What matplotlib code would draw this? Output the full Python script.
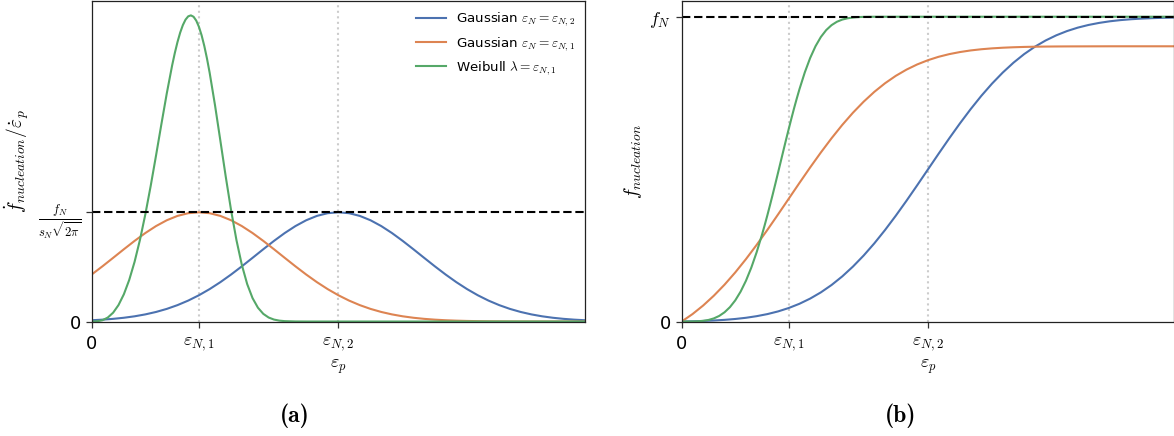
import matplotlib
matplotlib.use("Agg")
import matplotlib.pyplot as plt

plt.rcParams['mathtext.fontset'] = 'cm'
plt.rcParams['font.family'] = ['DejaVu Sans']

# tick positions (plastic strain)
eps_N1 = 0.10
eps_N2 = 0.23
x_max = 0.46

# strain grid for the two gaussians
x_gauss = [0.00, 0.01, 0.02, 0.03, 0.04, 0.05, 0.06, 0.07, 0.08, 0.09,
           0.10, 0.11, 0.12, 0.13, 0.14, 0.15, 0.16, 0.17, 0.18, 0.19,
           0.20, 0.21, 0.22, 0.23, 0.24, 0.25, 0.26, 0.27, 0.28, 0.29,
           0.30, 0.31, 0.32, 0.33, 0.34, 0.35, 0.36, 0.37, 0.38, 0.39,
           0.40, 0.41, 0.42, 0.43, 0.44, 0.45, 0.46]

# strain grid for the weibull curve (denser around the peak)
x_weib = [0.000, 0.005, 0.010, 0.015, 0.020, 0.025, 0.030, 0.035, 0.040, 0.045,
          0.050, 0.055, 0.060, 0.065, 0.070, 0.075, 0.0775, 0.080, 0.0825, 0.085,
          0.0875, 0.090, 0.0925, 0.095, 0.0975, 0.100, 0.1025, 0.105, 0.1075, 0.110,
          0.115, 0.120, 0.125, 0.130, 0.135, 0.140, 0.145, 0.150, 0.155, 0.160,
          0.165, 0.170, 0.175, 0.180, 0.190, 0.200, 0.460]

# (a) nucleation rate, scaled so the gaussian peak is 1
rate_gauss_2 = [0.0116, 0.0169, 0.0243, 0.0343, 0.0476, 0.0651, 0.0874, 0.1154, 0.1500, 0.1915,
                0.2405, 0.2969, 0.3604, 0.4303, 0.5051, 0.5829, 0.6615, 0.7381, 0.8099, 0.8738,
                0.9269, 0.9668, 0.9916, 1.0000, 0.9916, 0.9668, 0.9269, 0.8738, 0.8099, 0.7381,
                0.6615, 0.5829, 0.5051, 0.4303, 0.3604, 0.2969, 0.2405, 0.1915, 0.1500, 0.1154,
                0.0874, 0.0651, 0.0476, 0.0343, 0.0243, 0.0169, 0.0116]
rate_gauss_1 = [0.4303, 0.5051, 0.5829, 0.6615, 0.7381, 0.8099, 0.8738, 0.9269, 0.9668, 0.9916,
                1.0000, 0.9916, 0.9668, 0.9269, 0.8738, 0.8099, 0.7381, 0.6615, 0.5829, 0.5051,
                0.4303, 0.3604, 0.2969, 0.2405, 0.1915, 0.1500, 0.1154, 0.0874, 0.0651, 0.0476,
                0.0343, 0.0243, 0.0169, 0.0116, 0.0078, 0.0051, 0.0033, 0.0020, 0.0013, 0.0008,
                0.0005, 0.0003, 0.0002, 0.0001, 0.0001, 0.0000, 0.0000]
rate_weib = [0.0000, 0.0017, 0.0116, 0.0362, 0.0808, 0.1505, 0.2494, 0.3807, 0.5468, 0.7473,
             0.9801, 1.2405, 1.5200, 1.8072, 2.0875, 2.3440, 2.4577, 2.5585, 2.6446, 2.7135,
             2.7639, 2.7939, 2.8029, 2.7900, 2.7548, 2.6980, 2.6204, 2.5229, 2.4079, 2.2773,
             1.9798, 1.6547, 1.3263, 1.0171, 0.7447, 0.5184, 0.3425, 0.2141, 0.1266, 0.0701,
             0.0365, 0.0177, 0.0080, 0.0034, 0.0005, 0.0000, 0.0000]

# (b) cumulative nucleated fraction, f_N = 1
cum_gauss_2 = [0.0000, 0.0007, 0.0018, 0.0033, 0.0054, 0.0083, 0.0122, 0.0175, 0.0243, 0.0331,
               0.0443, 0.0582, 0.0752, 0.0956, 0.1198, 0.1480, 0.1803, 0.2165, 0.2566, 0.3003,
               0.3470, 0.3961, 0.4469, 0.4986, 0.5503, 0.6011, 0.6502, 0.6969, 0.7406, 0.7807,
               0.8169, 0.8492, 0.8774, 0.9016, 0.9220, 0.9390, 0.9529, 0.9641, 0.9729, 0.9797,
               0.9850, 0.9889, 0.9918, 0.9939, 0.9954, 0.9965, 0.9972]
cum_gauss_1 = [0.0000, 0.0242, 0.0524, 0.0847, 0.1209, 0.1610, 0.2047, 0.2514, 0.3005, 0.3513,
               0.4030, 0.4547, 0.5055, 0.5546, 0.6013, 0.6450, 0.6851, 0.7213, 0.7536, 0.7818,
               0.8060, 0.8264, 0.8434, 0.8573, 0.8685, 0.8773, 0.8841, 0.8894, 0.8933, 0.8962,
               0.8983, 0.8998, 0.9009, 0.9016, 0.9021, 0.9024, 0.9026, 0.9027, 0.9028, 0.9029,
               0.9030, 0.9030, 0.9030, 0.9030, 0.9030, 0.9030, 0.9030]
cum_weib = [0.0000, 0.0000, 0.0002, 0.0007, 0.0022, 0.0051, 0.0102, 0.0183, 0.0303, 0.0470,
            0.0693, 0.0980, 0.1337, 0.1768, 0.2273, 0.2848, 0.3160, 0.3484, 0.3822, 0.4168,
            0.4523, 0.4883, 0.5246, 0.5609, 0.5969, 0.6321, 0.6665, 0.7000, 0.7318, 0.7622,
            0.8175, 0.8646, 0.9032, 0.9335, 0.9562, 0.9724, 0.9835, 0.9906, 0.9949, 0.9974,
            0.9988, 0.9995, 0.9998, 0.9999, 1.0000, 1.0000, 1.0000]

labels = [r'Gaussian $\varepsilon_N = \varepsilon_{N,2}$',
          r'Gaussian $\varepsilon_N = \varepsilon_{N,1}$',
          r'Weibull $\lambda = \varepsilon_{N,1}$']
colors = ['#4C72B0', '#DD8452', '#55A868']

fig = plt.figure(figsize=(11.74, 4.36), dpi=100)
ax1 = fig.add_axes([0.0781, 0.2626, 0.4202, 0.734])
ax2 = fig.add_axes([0.5807, 0.2626, 0.4193, 0.734])

# left panel: rates
ax1.plot(x_gauss, rate_gauss_2, color=colors[0], lw=1.5, label=labels[0])
ax1.plot(x_gauss, rate_gauss_1, color=colors[1], lw=1.5, label=labels[1])
ax1.plot(x_weib, rate_weib, color=colors[2], lw=1.5, label=labels[2])
ax1.axhline(1.0, color='black', ls='--', lw=1.5, dashes=(4, 1.8))
ax1.set_ylim(0, 2.93)
ax1.set_yticks([0, 1])
ax1.set_yticklabels(['0', r'$\frac{f_N}{s_N\sqrt{2\pi}}$'])
ax1.set_ylabel(r'$\dot{f}_{nucleation}/\dot{\varepsilon}_p$', fontsize=14, labelpad=4)
ax1.legend(loc='upper right', frameon=False, fontsize=9.6, handlelength=2.2,
           borderaxespad=0.3, labelspacing=0.5)

# right panel: cumulative
ax2.plot(x_gauss, cum_gauss_2, color=colors[0], lw=1.5)
ax2.plot(x_gauss, cum_gauss_1, color=colors[1], lw=1.5)
ax2.plot(x_weib, cum_weib, color=colors[2], lw=1.5)
ax2.axhline(1.0, color='black', ls='--', lw=1.5, dashes=(4, 1.8))
ax2.set_ylim(0, 1.05)
ax2.set_yticks([0, 1])
ax2.set_yticklabels(['0', r'$f_N$'])
ax2.set_ylabel(r'$f_{nucleation}$', fontsize=14, labelpad=4)

for ax in (ax1, ax2):
    ax.axvline(eps_N1, color='#cccccc', ls=':', lw=1.5, zorder=0)
    ax.axvline(eps_N2, color='#cccccc', ls=':', lw=1.5, zorder=0)
    ax.set_xlim(0, x_max)
    ax.set_xticks([0, eps_N1, eps_N2])
    ax.set_xticklabels(['0', r'$\varepsilon_{N,1}$', r'$\varepsilon_{N,2}$'])
    ax.set_xlabel(r'$\varepsilon_p$', fontsize=13, labelpad=3)
    ax.tick_params(labelsize=13, length=4, width=0.9, color='#333333')
    ax.tick_params(axis='x', pad=6)
    for s in ax.spines.values():
        s.set_color('#222222')
        s.set_linewidth(0.9)

fig.text(295 / 1174, 1 - 416 / 436, '(a)', family='cmb10', ha='center', va='center', fontsize=17)
fig.text(901 / 1174, 1 - 416 / 436, '(b)', family='cmb10', ha='center', va='center', fontsize=17)

fig.savefig('out.png', dpi=100)
